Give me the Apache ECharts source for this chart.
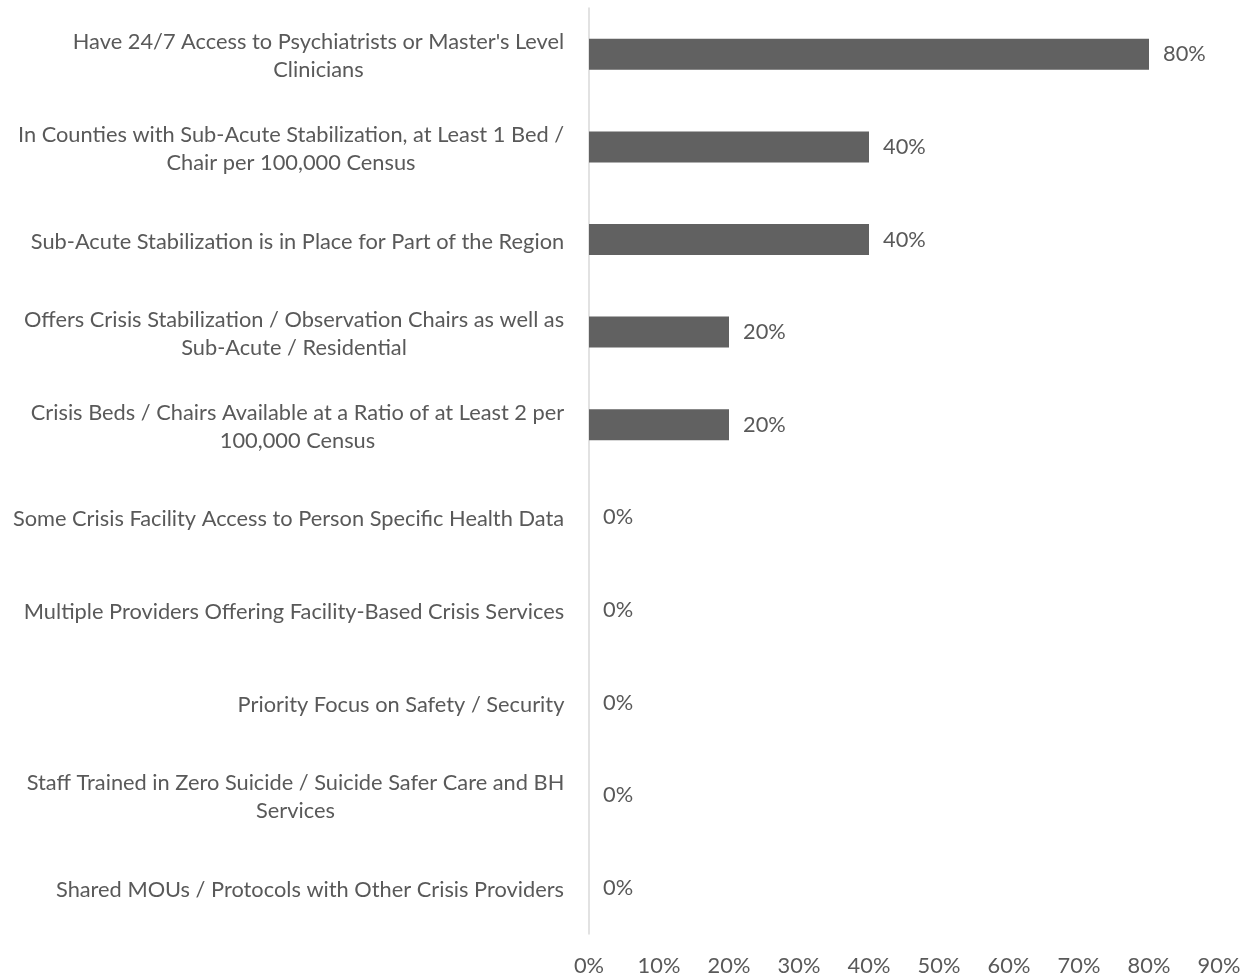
<!DOCTYPE html>
<html>
<head>
<meta charset="utf-8">
<script src="https://cdn.jsdelivr.net/npm/echarts@6/dist/echarts.min.js"></script>
<style>
  html, body { margin: 0; padding: 0; background: #fff; }
  #chart { width: 1250px; height: 974px; }
</style>
</head>
<body>
<div id="chart"></div>
<script>
// Capabilities, listed top to bottom
const categories = [
  "Have 24/7 Access to Psychiatrists or Master's Level\nClinicians",
  "In Counties with Sub-Acute Stabilization, at Least 1 Bed /\nChair per 100,000 Census",
  "Sub-Acute Stabilization is in Place for Part of the Region",
  "Offers Crisis Stabilization / Observation Chairs as well as\nSub-Acute / Residential",
  "Crisis Beds / Chairs Available at a Ratio of at Least 2 per\n100,000 Census",
  "Some Crisis Facility Access to Person Specific Health Data",
  "Multiple Providers Offering Facility-Based Crisis Services",
  "Priority Focus on Safety / Security",
  "Staff Trained in Zero Suicide / Suicide Safer Care and BH\nServices",
  "Shared MOUs / Protocols with Other Crisis Providers"
];
// Share of respondents (%)
const values = [80, 40, 40, 20, 20, 0, 0, 0, 0, 0];
const axisMax = 90;
const axisStep = 10;

const FONT = 'Lato';
const FONT_SIZE = 21.8;
const TEXT_COLOR = '#595959';

// Measure each label's widest line so wrapped lines can be centred in their block
const ctx = document.createElement('canvas').getContext('2d');
ctx.font = FONT_SIZE + 'px ' + FONT;
const rich = {};
categories.forEach((c, i) => {
  const w = Math.max.apply(null, c.split('\n').map(s => ctx.measureText(s).width));
  rich['l' + i] = {
    width: Math.ceil(w) + 1,
    align: 'center',
    fontFamily: FONT,
    fontSize: FONT_SIZE,
    lineHeight: 28,
    color: TEXT_COLOR,
    padding: [4, 0, 0, 0]
  };
});

const chart = echarts.init(document.getElementById('chart'));
chart.setOption({
  animation: false,
  textStyle: { fontFamily: FONT },
  grid: {
    left: 589, right: 31, top: 8, bottom: 40,
    containLabel: false,
    outerBoundsMode: 'none'
  },
  xAxis: {
    type: 'value',
    min: 0,
    max: axisMax,
    interval: axisStep,
    axisLine: { show: false },
    axisTick: { show: false },
    splitLine: { show: false },
    axisLabel: {
      formatter: '{value}%',
      fontFamily: FONT,
      fontSize: FONT_SIZE,
      color: TEXT_COLOR,
      margin: 21
    }
  },
  yAxis: {
    type: 'category',
    inverse: true,
    data: categories,
    axisLine: { show: true, lineStyle: { color: '#d9d9d9', width: 1.5 } },
    axisTick: { show: false },
    axisLabel: {
      margin: 24,
      align: 'right',
      formatter: function (value, index) {
        return value.split('\n').map(s => '{l' + index + '|' + s + '}').join('\n');
      },
      rich: rich
    }
  },
  series: [{
    type: 'bar',
    data: values,
    barWidth: 31,
    itemStyle: { color: '#616161' },
    label: {
      show: true,
      position: 'right',
      distance: 14,
      formatter: '{c}%',
      fontFamily: FONT,
      fontSize: FONT_SIZE,
      color: TEXT_COLOR
    }
  }]
});
</script>
</body>
</html>
